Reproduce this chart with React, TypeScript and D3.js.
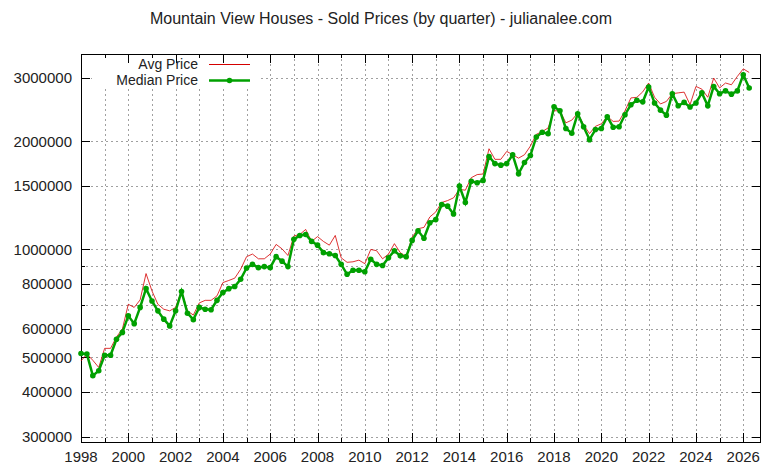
import React, { useEffect, useRef } from "react";
import * as d3 from "d3";

const title = "Mountain View Houses - Sold Prices (by quarter) - julianalee.com";
const seriesNames = ["Avg Price", "Median Price"];

// quarterly data, first point is Q1 1998
const firstYear = 1998;

const avgPrice = [
  488000, 510000, 490000, 468000,
  529000, 529000, 569000, 599000,
  702000, 688000, 722000, 855000,
  765000, 702000, 680000, 673000,
  688000, 765000, 673000, 655000,
  708000, 720000, 720000, 741000,
  807000, 818000, 830000, 879000,
  953000, 969000, 940000, 940000,
  969000, 1031000, 1002000, 960000,
  1088000, 1099000, 1135000, 1051000,
  1084000, 1051000, 1026000, 1092000,
  946000, 919000, 922000, 932000,
  911000, 998000, 990000, 940000,
  969000, 1036000, 978000, 953000,
  1080000, 1140000, 1150000, 1230000,
  1270000, 1349000, 1366000, 1390000,
  1468000, 1460000, 1582000, 1614000,
  1620000, 1905000, 1780000, 1780000,
  1873000, 1833000, 1794000, 1833000,
  1938000, 2090000, 2127000, 2177000,
  2431000, 2431000, 2250000, 2289000,
  2395000, 2222000, 2100000, 2200000,
  2236000, 2345000, 2270000, 2275000,
  2431000, 2640000, 2650000, 2745000,
  2905000, 2651000, 2540000, 2581000,
  2713000, 2727000, 2740000, 2528000,
  2842000, 2793000, 2651000, 3000000,
  2815000, 2905000, 2873000, 3031000,
  3182000, 3109000,
];

const medianPrice = [
  512000, 510000, 444000, 458000,
  506000, 506000, 561000, 586000,
  652000, 620000, 688000, 776000,
  717000, 673000, 638000, 611000,
  673000, 762000, 663000, 636000,
  688000, 680000, 678000, 720000,
  757000, 776000, 787000, 824000,
  886000, 907000, 888000, 894000,
  888000, 953000, 926000, 894000,
  1065000, 1092000, 1099000, 1051000,
  1026000, 978000, 971000, 960000,
  907000, 851000, 873000, 873000,
  865000, 937000, 907000, 900000,
  946000, 990000, 958000, 953000,
  1058000, 1125000, 1073000, 1185000,
  1209000, 1332000, 1318000, 1254000,
  1500000, 1349000, 1547000, 1532000,
  1555000, 1812000, 1732000, 1715000,
  1732000, 1833000, 1623000, 1744000,
  1825000, 2055000, 2117000, 2099000,
  2495000, 2431000, 2170000, 2105000,
  2385000, 2195000, 2020000, 2155000,
  2170000, 2340000, 2188000, 2195000,
  2370000, 2528000, 2601000, 2574000,
  2832000, 2556000, 2441000, 2364000,
  2713000, 2510000, 2565000, 2491000,
  2556000, 2727000, 2510000, 2842000,
  2713000, 2762000, 2705000, 2762000,
  3064000, 2815000,
];

const yTicks = [300000, 400000, 500000, 600000, 800000, 1000000, 1500000, 2000000, 3000000];
const yMinorTicks = [700000, 900000];
const xTicks = [1998, 2000, 2002, 2004, 2006, 2008, 2010, 2012, 2014, 2016, 2018, 2020, 2022, 2024, 2026];
const xMinorTicks = [1999, 2001, 2003, 2005, 2007, 2009, 2011, 2013, 2015, 2017, 2019, 2021, 2023, 2025];

const RED = "#d40000";
const GREEN = "#00a000";
const FONT = "'Liberation Sans', Arial, sans-serif";

export default function App() {
  const ref = useRef<SVGSVGElement>(null);

  useEffect(() => {
    const svg = d3.select(ref.current);
    svg.selectAll("*").remove();

    const width = 762, height = 468;
    const left = 81, right = 761, top = 54, bottom = 442;

    const x = d3.scaleLinear().domain([1998, 2026.75]).range([left, right]);
    const y = d3.scaleLog().domain([290000, 3500000]).range([bottom, top]);
    const px = (v: number) => Math.round(v) + 0.5;

    svg.attr("width", width).attr("height", height).style("font-family", FONT);
    svg.append("rect").attr("width", width).attr("height", height).attr("fill", "#fff");

    // grid
    const grid = svg.append("g")
      .attr("stroke", "#a0a0a0")
      .attr("stroke-width", 1)
      .attr("stroke-dasharray", "2,3");
    grid.selectAll("line.vx")
      .data([...xTicks, ...xMinorTicks].filter((d) => d > 1998))
      .join("line")
      .attr("x1", (d) => px(x(d)))
      .attr("x2", (d) => px(x(d)))
      .attr("y1", top)
      .attr("y2", bottom);
    grid.selectAll("line.hy")
      .data([...yTicks, ...yMinorTicks])
      .join("line")
      .attr("x1", left)
      .attr("x2", right)
      .attr("y1", (d) => px(y(d)))
      .attr("y2", (d) => px(y(d)));

    // key box covers the grid
    svg.append("rect")
      .attr("x", 92).attr("y", 56)
      .attr("width", 166).attr("height", 31)
      .attr("fill", "#fff");

    // ticks
    const ticks = svg.append("g").attr("stroke", "#000").attr("stroke-width", 1);
    const tickLen = 9, minorLen = 4;
    xTicks.forEach((d) => {
      const xx = px(x(d));
      ticks.append("line").attr("x1", xx).attr("x2", xx).attr("y1", bottom).attr("y2", bottom - tickLen);
      ticks.append("line").attr("x1", xx).attr("x2", xx).attr("y1", top).attr("y2", top + tickLen);
    });
    xMinorTicks.forEach((d) => {
      const xx = px(x(d));
      ticks.append("line").attr("x1", xx).attr("x2", xx).attr("y1", bottom).attr("y2", bottom - minorLen);
      ticks.append("line").attr("x1", xx).attr("x2", xx).attr("y1", top).attr("y2", top + minorLen);
    });
    yTicks.forEach((d) => {
      const yy = px(y(d));
      ticks.append("line").attr("x1", left).attr("x2", left + tickLen).attr("y1", yy).attr("y2", yy);
      ticks.append("line").attr("x1", right).attr("x2", right - tickLen).attr("y1", yy).attr("y2", yy);
    });
    yMinorTicks.forEach((d) => {
      const yy = px(y(d));
      ticks.append("line").attr("x1", left).attr("x2", left + minorLen).attr("y1", yy).attr("y2", yy);
      ticks.append("line").attr("x1", right).attr("x2", right - minorLen).attr("y1", yy).attr("y2", yy);
    });

    // frame
    svg.append("rect")
      .attr("x", left + 0.5).attr("y", top + 0.5)
      .attr("width", right - left - 1).attr("height", bottom - top)
      .attr("fill", "none").attr("stroke", "#000");

    // tick labels
    svg.append("g")
      .selectAll("text")
      .data(yTicks)
      .join("text")
      .attr("x", 72)
      .attr("y", (d) => y(d))
      .attr("dy", "0.36em")
      .attr("text-anchor", "end")
      .attr("font-size", "15px")
      .attr("fill", "#222")
      .text((d) => String(d));
    svg.append("g")
      .selectAll("text")
      .data(xTicks)
      .join("text")
      .attr("x", (d) => x(d))
      .attr("y", 462)
      .attr("text-anchor", "middle")
      .attr("font-size", "15px")
      .attr("fill", "#222")
      .text((d) => String(d));

    // title
    svg.append("text")
      .attr("x", 381)
      .attr("y", 24)
      .attr("text-anchor", "middle")
      .attr("font-size", "16px")
      .attr("fill", "#222")
      .text(title);

    // series
    const line = d3.line<number>()
      .x((_, i) => x(firstYear + i / 4))
      .y((d) => y(d));

    svg.append("path")
      .attr("d", line(avgPrice))
      .attr("fill", "none")
      .attr("stroke", RED)
      .attr("stroke-opacity", 0.8)
      .attr("stroke-width", 1);

    svg.append("path")
      .attr("d", line(medianPrice))
      .attr("fill", "none")
      .attr("stroke", GREEN)
      .attr("stroke-width", 2.5);
    svg.append("g")
      .selectAll("circle")
      .data(medianPrice)
      .join("circle")
      .attr("cx", (_, i) => x(firstYear + i / 4))
      .attr("cy", (d) => y(d))
      .attr("r", 2.8)
      .attr("fill", GREEN);

    // key
    const key = svg.append("g").attr("font-size", "14px").attr("fill", "#222");
    key.append("text").attr("x", 198).attr("y", 69).attr("text-anchor", "end").text(seriesNames[0]);
    key.append("text").attr("x", 198).attr("y", 85).attr("text-anchor", "end").text(seriesNames[1]);
    svg.append("line")
      .attr("x1", 209).attr("x2", 250).attr("y1", 64.5).attr("y2", 64.5)
      .attr("stroke", RED).attr("stroke-width", 1);
    svg.append("line")
      .attr("x1", 209).attr("x2", 250).attr("y1", 80.5).attr("y2", 80.5)
      .attr("stroke", GREEN).attr("stroke-width", 2.5);
    svg.append("circle").attr("cx", 229.5).attr("cy", 80.5).attr("r", 2.8).attr("fill", GREEN);
  }, []);

  return <svg ref={ref} style={{ position: "absolute", left: 0, top: 0 }} />;
}
